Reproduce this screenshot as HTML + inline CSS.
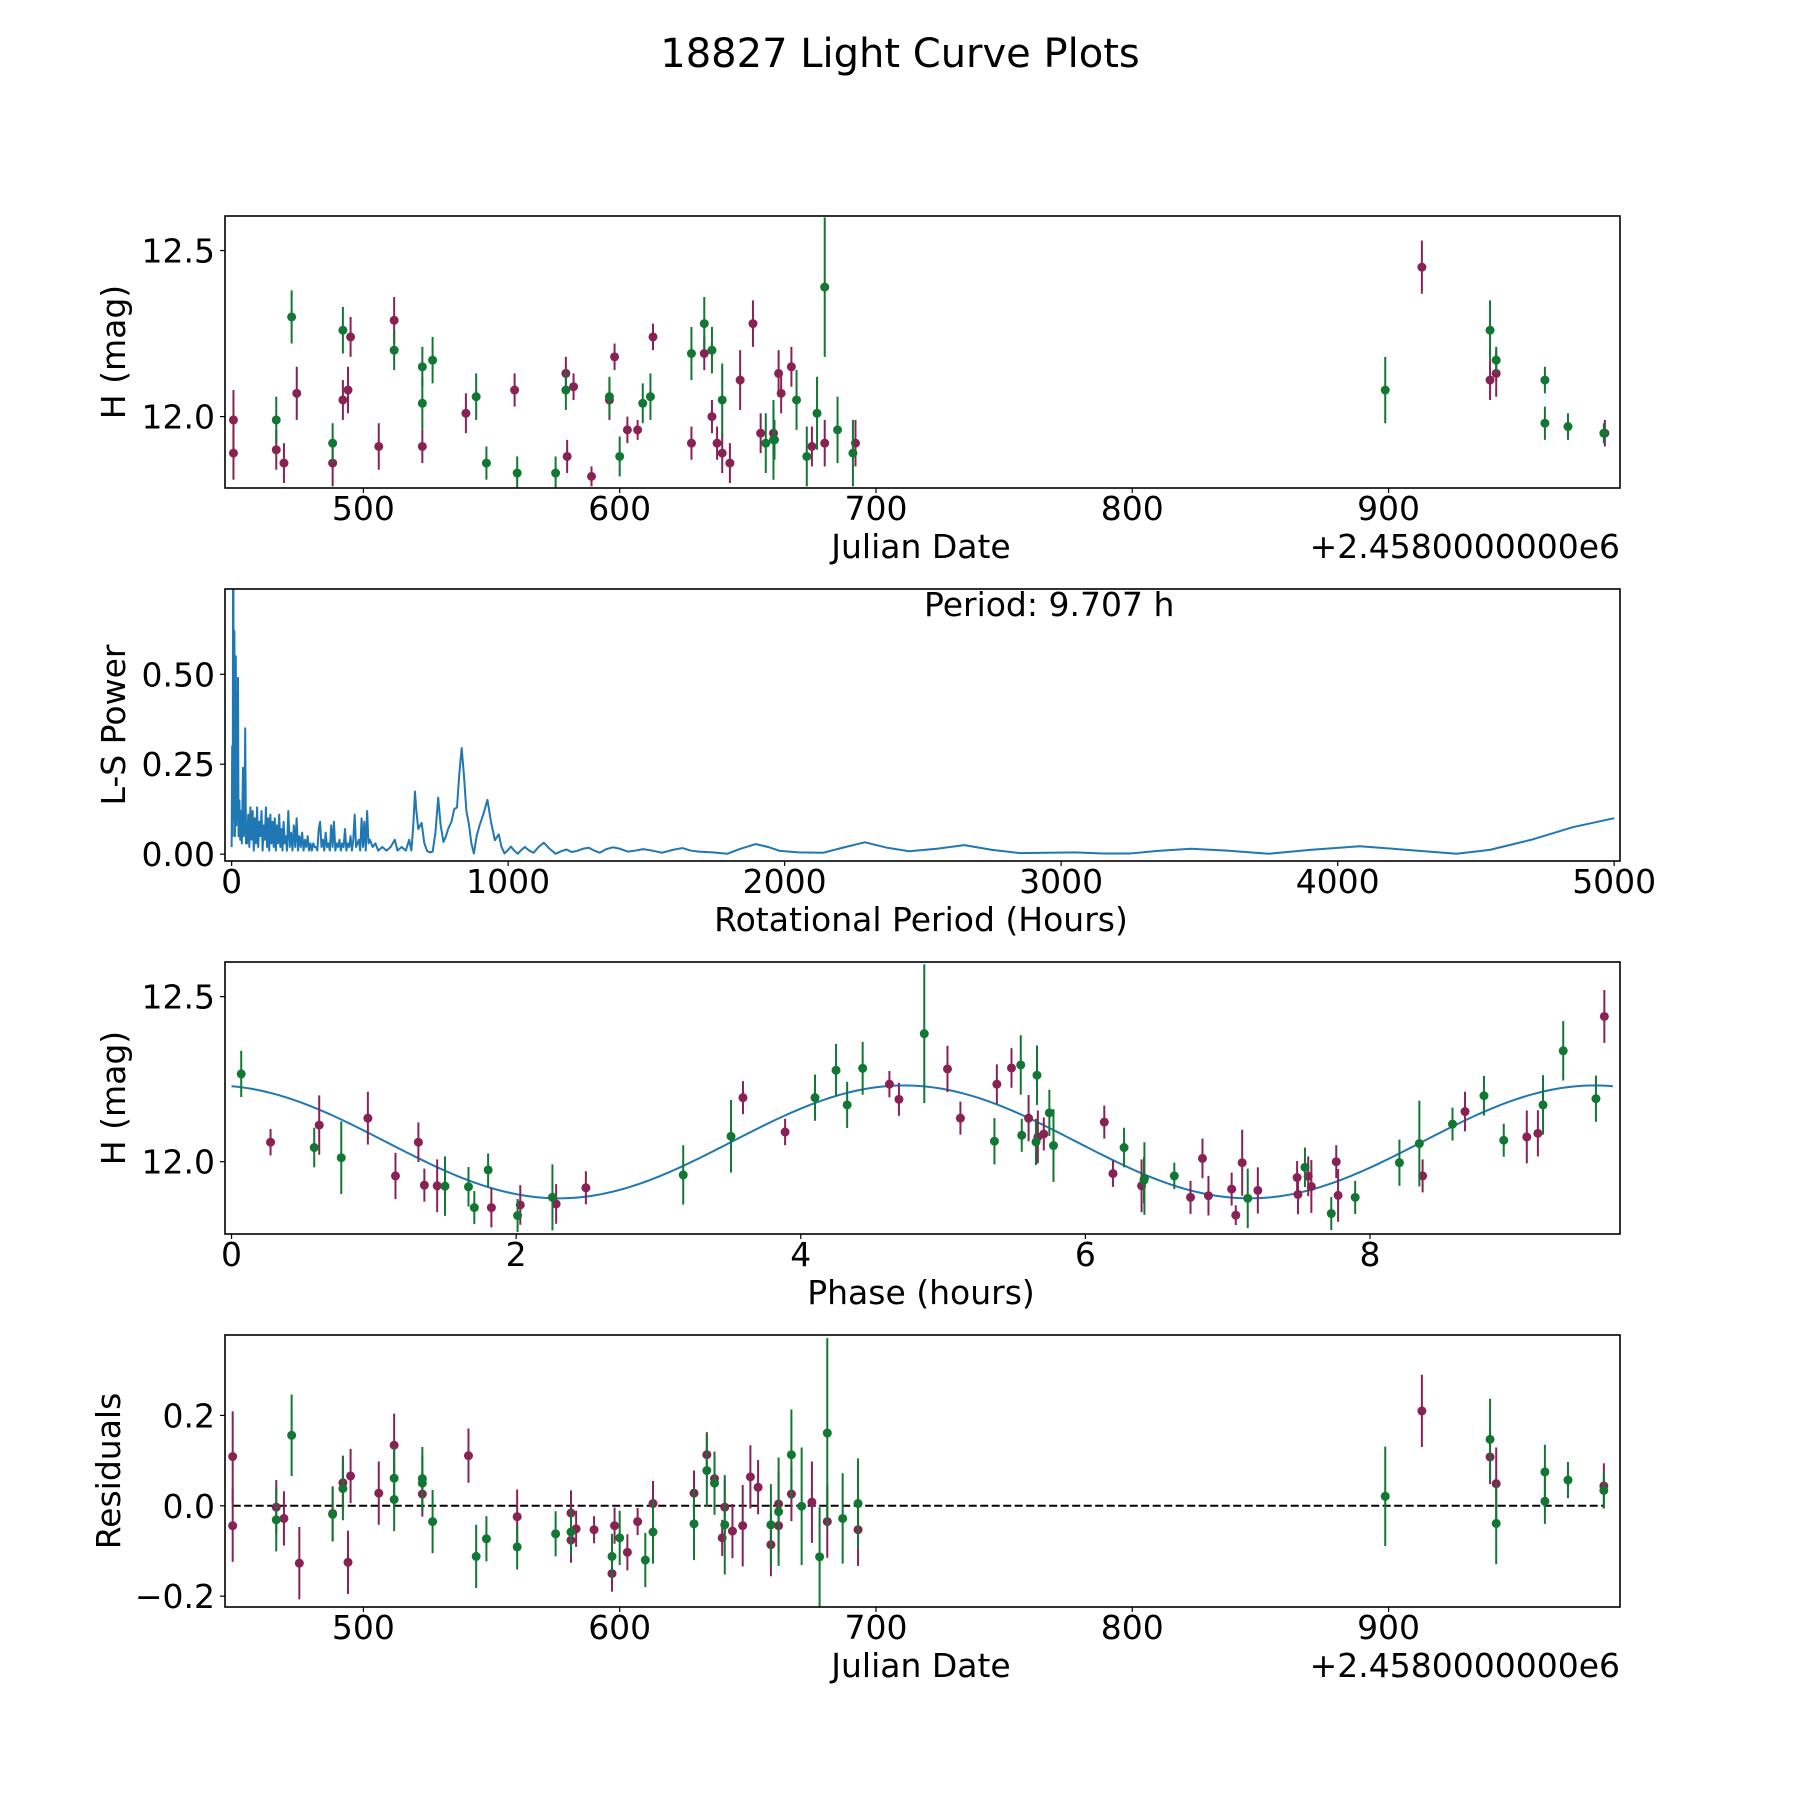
<!DOCTYPE html>
<html><head><meta charset="utf-8">
<style>
html,body{margin:0;padding:0;background:#fff;}
svg{display:block;font-family:"DejaVu Sans","Liberation Sans",sans-serif;}
</style></head>
<body>
<svg id="fig" width="1800" height="1800" viewBox="0 0 1800 1800" xmlns="http://www.w3.org/2000/svg">
<rect width="1800" height="1800" fill="#fff"/>
<text x="900" y="67" font-size="40" text-anchor="middle" fill="#000">18827 Light Curve Plots</text>
</svg>
<script>
// ---- Panel 1: light curve (Julian Date offset, mag, err)
const lcMagJd  = [449.3,449.3,466,469,474,488,492,494,495,506,512,523,540,559,579.5,579,582,589,596,598,603,607,613,628,633,636,638,640,643,647,652,655,660,662,663,667,675,680,692,913,939.6,942,984.4];
const lcMagMag = [11.99,11.89,11.90,11.86,12.07,11.86,12.05,12.08,12.24,11.91,12.29,11.91,12.01,12.08,11.88,12.13,12.09,11.82,12.05,12.18,11.96,11.96,12.24,11.92,12.19,12.00,11.92,11.89,11.86,12.11,12.28,11.95,11.95,12.13,12.07,12.15,11.91,11.92,11.92,12.45,12.11,12.13,11.95];
const lcMagErr = [0.09,0.08,0.06,0.06,0.08,0.07,0.06,0.07,0.06,0.07,0.07,0.05,0.06,0.05,0.05,0.05,0.04,0.03,0.06,0.04,0.04,0.03,0.04,0.05,0.05,0.05,0.05,0.06,0.06,0.09,0.07,0.06,0.07,0.07,0.06,0.06,0.06,0.07,0.07,0.08,0.06,0.07,0.04];
const lcGrnJd  = [466,472,488,492,512,523,523,527,544,548,560,575,579,596,600,609,612,628,633,636,640,657,660,660.4,669,673,677,680,685,691,898.7,939.6,942,961,961,970,984];
const lcGrnMag = [11.99,12.30,11.92,12.26,12.20,12.15,12.04,12.17,12.06,11.86,11.83,11.83,12.08,12.06,11.88,12.04,12.06,12.19,12.28,12.20,12.05,11.92,11.93,11.93,12.05,11.88,12.01,12.39,11.96,11.89,12.08,12.26,12.17,12.11,11.98,11.97,11.95];
const lcGrnErr = [0.07,0.08,0.06,0.07,0.06,0.06,0.08,0.07,0.07,0.05,0.05,0.05,0.06,0.06,0.06,0.06,0.07,0.08,0.08,0.07,0.11,0.09,0.12,0.06,0.09,0.09,0.11,0.21,0.10,0.10,0.10,0.09,0.04,0.04,0.05,0.04,0.03];
const jdTicks = [500,600,700,800,900];
const magTicks = [12.0,12.5];
const magTickLabels = ["12.0","12.5"];

// ---- Panel 2: Lomb-Scargle periodogram samples [hours, power]
const lsSamples = [
[0,0.02],[2,0.30],[4,0.05],[5,0.74],[6.5,0.74],[8,0.10],[10,0.62],[12,0.05],[15,0.55],[17,0.08],[19,0.45],[21,0.10],[23,0.49],[25,0.05],[28,0.15],[31,0.04],[34,0.12],[37,0.03],[41,0.24],[44,0.05],[47,0.12],[49,0.35],[52,0.03],
[56,0.03],[60,0.11],[64,0.02],[68,0.13],[72,0.04],[76,0.12],[80,0.01],[84,0.10],[88,0.03],[92,0.13],[96,0.02],[100,0.09],[104,0.05],[108,0.12],[112,0.01],[116,0.08],[120,0.04],[124,0.13],[128,0.02],[132,0.10],[136,0.01],[140,0.11],[144,0.03],[148,0.09],[152,0.02],[156,0.10],[160,0.01],[164,0.08],[168,0.03],[172,0.11],[176,0.02],[180,0.07],[184,0.01],[188,0.09],[192,0.03],[196,0.05],[200,0.01],
[205,0.12],[210,0.02],[215,0.06],[220,0.01],[225,0.08],[230,0.02],[235,0.10],[240,0.01],[245,0.05],[250,0.02],[255,0.06],[260,0.01],[265,0.04],[270,0.02],[275,0.05],[280,0.01],[285,0.03],[290,0.01],[295,0.03],[300,0.02],[305,0.02],[310,0.01],[315,0.07],[320,0.09],[325,0.02],[330,0.04],[335,0.01],[340,0.06],[345,0.02],[350,0.03],[355,0.01],[360,0.08],[365,0.02],[370,0.09],[375,0.01],[380,0.03],[385,0.02],[390,0.04],[395,0.01],[400,0.03],[405,0.02],[410,0.07],[415,0.01],[420,0.03],[425,0.02],[430,0.05],[435,0.01],[440,0.04],[445,0.11],[450,0.02],[455,0.03],[460,0.04],[465,0.01],[470,0.10],[475,0.02],[480,0.09],[485,0.01],[490,0.12],[495,0.03],[500,0.04],
[510,0.02],[520,0.03],[530,0.01],[545,0.02],[560,0.01],[575,0.02],[590,0.04],[600,0.01],[615,0.02],[630,0.01],[642,0.04],[650,0.01],[657,0.08],[663,0.174],[668,0.12],[675,0.07],[687,0.087],[697,0.03],[707,0.009],[717,0.005],[727,0.007],[737,0.06],[747,0.157],[756,0.08],[766,0.034],[775,0.05],[784,0.072],[795,0.09],[805,0.125],[815,0.13],[823,0.22],[832,0.295],[840,0.22],[849,0.12],[858,0.084],[867,0.03],[876,0.002],[886,0.05],[897,0.081],[910,0.11],[925,0.151],[938,0.09],[952,0.039],[966,0.055],[976,0.02],[987,0.002],[1000,0.012],[1010,0.021],[1022,0.01],[1035,0.001],[1048,0.012],[1061,0.020],[1076,0.01],[1092,0.004],[1110,0.02],[1129,0.032],[1150,0.015],[1172,0.001],[1191,0.008],[1211,0.013],[1230,0.006],[1249,0.009],[1270,0.015],[1292,0.018],[1311,0.01],[1331,0.004],[1355,0.014],[1379,0.019],[1405,0.015],[1433,0.007],[1460,0.01],[1488,0.014],[1520,0.01],[1557,0.004],[1595,0.012],[1630,0.017],[1660,0.01],[1689,0.007],[1740,0.005],[1792,0.001],[1840,0.015],[1895,0.028],[1940,0.02],[1983,0.009],
[2050,0.005],[2140,0.004],[2220,0.02],[2290,0.033],[2370,0.018],[2450,0.008],[2550,0.015],[2650,0.025],[2750,0.012],[2850,0.003],[2950,0.004],[3050,0.005],[3150,0.002],[3250,0.002],[3350,0.009],[3470,0.015],[3600,0.01],[3750,0.001],[3900,0.012],[4080,0.022],[4250,0.012],[4430,0.001],[4550,0.012],[4700,0.04],[4850,0.075],[5000,0.10]];
const hourTicks = [0,1000,2000,3000,4000,5000];
const powerTicks = [0,0.25,0.5];
const powerTickLabels = ["0.00","0.25","0.50"];
const periodLabel = "Period: 9.707 h";

// ---- Panel 3: phased light curve
const phMagPhase = [0.274,0.616,0.958,1.152,1.313,1.355,1.445,1.826,2.029,2.281,2.490,3.594,3.890,4.623,4.690,5.031,5.122,5.378,5.481,5.601,5.666,5.708,6.133,6.194,6.395,6.739,6.823,6.865,7.028,7.057,7.102,7.212,7.488,7.494,7.566,7.588,7.763,7.776,8.370,8.668,9.102,9.180,9.647];
const phMagMag = [12.059,12.111,12.132,11.957,12.059,11.929,11.927,11.861,11.869,11.872,11.921,12.194,12.090,12.235,12.189,12.281,12.132,12.235,12.284,12.132,12.075,12.084,12.120,11.964,11.927,11.892,12.010,11.897,11.917,11.838,11.997,11.913,11.952,11.901,11.956,11.925,12.000,11.898,11.957,12.152,12.075,12.086,12.440];
const phMagErr = [0.04,0.09,0.08,0.07,0.06,0.05,0.08,0.06,0.06,0.06,0.05,0.05,0.04,0.04,0.05,0.07,0.05,0.06,0.06,0.07,0.08,0.05,0.05,0.04,0.08,0.05,0.06,0.06,0.05,0.03,0.10,0.07,0.05,0.06,0.06,0.08,0.05,0.08,0.05,0.06,0.08,0.07,0.08];
const phGrnPhase = [0.068,0.581,0.771,1.500,1.665,1.706,1.803,2.010,2.255,3.174,3.510,4.100,4.248,4.326,4.435,4.868,5.361,5.546,5.553,5.653,5.660,5.747,5.776,6.272,6.412,6.415,6.625,7.141,7.543,7.728,7.896,8.207,8.347,8.580,8.801,8.940,9.216,9.358,9.588];
const phGrnMag = [12.266,12.043,12.012,11.926,11.924,11.861,11.975,11.837,11.892,11.960,12.077,12.194,12.277,12.172,12.283,12.388,12.062,12.293,12.080,12.060,12.262,12.148,12.049,12.043,11.944,11.949,11.957,11.889,11.983,11.843,11.892,11.997,12.055,12.114,12.200,12.065,12.172,12.336,12.191];
const phGrnErr = [0.07,0.06,0.11,0.09,0.06,0.05,0.05,0.05,0.10,0.09,0.11,0.07,0.08,0.07,0.08,0.21,0.07,0.09,0.05,0.07,0.09,0.07,0.11,0.06,0.07,0.11,0.04,0.09,0.06,0.05,0.05,0.07,0.13,0.05,0.06,0.05,0.09,0.09,0.07];
const modelPeriod = 9.707;
const modelMean = 12.06;
const modelAmp = 0.171;
const modelPeakPhase = 4.726;
const phaseTicks = [0,2,4,6,8];

// ---- Panel 4: residuals
const resMagJd  = [449,449,466,469,475,488,492,494,495,506,512,523,541,560,581,581,583,590,597,598,603,607,613,629,634,637,640,641,644,648,651,654,659,662,662,667,675,681,693,913,939.6,942,984];
const resMagVal = [0.109,-0.044,-0.003,-0.028,-0.127,-0.017,0.051,-0.125,0.066,0.028,0.134,0.026,0.111,-0.024,-0.016,-0.076,-0.051,-0.053,-0.150,-0.044,-0.103,-0.035,0.005,0.028,0.113,0.060,-0.071,-0.003,-0.056,-0.044,0.064,0.041,-0.086,0.004,-0.044,0.026,0.008,-0.035,-0.053,0.210,0.108,0.049,0.044];
const resMagErr = [0.10,0.08,0.06,0.06,0.08,0.06,0.06,0.07,0.06,0.07,0.07,0.05,0.06,0.06,0.05,0.05,0.04,0.03,0.04,0.04,0.04,0.03,0.05,0.05,0.05,0.05,0.04,0.06,0.06,0.09,0.07,0.06,0.07,0.07,0.06,0.06,0.09,0.08,0.08,0.08,0.06,0.08,0.05];
const resGrnJd  = [466,472,488,492,512,512,523,523,527,544,548,560,575,581,597,600,610,613,629,634,637,641,659,662,667,671,678,681,687,693,898.7,939.6,942,961,961,970,984];
const resGrnVal = [-0.031,0.156,-0.019,0.038,0.061,0.014,0.060,0.050,-0.035,-0.112,-0.073,-0.091,-0.062,-0.058,-0.112,-0.071,-0.120,-0.058,-0.040,0.078,0.050,-0.042,-0.042,-0.013,0.113,-0.001,-0.113,0.161,-0.028,0.005,0.021,0.147,-0.039,0.075,0.010,0.057,0.034];
const resGrnErr = [0.07,0.09,0.06,0.07,0.07,0.07,0.07,0.06,0.07,0.07,0.05,0.05,0.05,0.05,0.05,0.06,0.06,0.07,0.08,0.08,0.07,0.11,0.09,0.12,0.10,0.13,0.11,0.21,0.10,0.10,0.11,0.09,0.09,0.06,0.05,0.04,0.04];
const resTicks = [-0.2,0,0.2];
const resTickLabels = ["\u22120.2","0.0","0.2"];

const NS = "http://www.w3.org/2000/svg";
const svg = document.getElementById('fig');
const MAG = "#882255", GRN = "#117733", BLUE = "#1f77b4";
const L = 225, R = 1620, H = 272, FS = 33;

function mk(tag, attrs, parent) {
  const e = document.createElementNS(NS, tag);
  for (const k in attrs) e.setAttribute(k, attrs[k]);
  (parent || svg).appendChild(e);
  return e;
}
function scale(d0, d1, r0, r1) { return v => r0 + (v - d0) / (d1 - d0) * (r1 - r0); }

function makeAxes(name, top, xd, yd) {
  const g = mk('g', {});
  
  
  const x = scale(xd[0], xd[1], L, R), y = scale(yd[0], yd[1], top + H, top);
  return {g, x, y, top};
}
function frame(ax) {
  const f = mk('rect', {x: L, y: ax.top, width: R - L, height: H, fill: 'none', stroke: '#000', 'stroke-width': 1.6}, ax.g);
  
  
}
function xTicks(ax, vals, labels, name) {
  const g = mk('g', {}, ax.g);
  
  
  vals.forEach((v, i) => {
    const px = ax.x(v);
    mk('line', {x1: px, x2: px, y1: ax.top + H, y2: ax.top + H + 5, stroke: '#000', 'stroke-width': 1.2}, g);
    const t = mk('text', {x: px, y: ax.top + H + 32, 'font-size': FS, 'text-anchor': 'middle'}, g);
    t.textContent = labels[i];
  });
}
function yTicks(ax, vals, labels, name) {
  const g = mk('g', {}, ax.g);
  
  
  vals.forEach((v, i) => {
    const py = ax.y(v);
    mk('line', {x1: L - 5, x2: L, y1: py, y2: py, stroke: '#000', 'stroke-width': 1.2}, g);
    const t = mk('text', {x: L - 10, y: py + 12, 'font-size': FS, 'text-anchor': 'end'}, g);
    t.textContent = labels[i];
  });
}
function label(ax, text, x, y, rot, name, anchor) {
  const t = mk('text', {x, y, 'font-size': FS, 'text-anchor': anchor || 'middle'}, ax.g);
  if (rot) t.setAttribute('transform', `rotate(-90 ${x} ${y})`);
  t.textContent = text;
  
  
}
function clip(ax, id) {
  const c = mk('clipPath', {id}, ax.g);
  mk('rect', {x: L, y: ax.top, width: R - L, height: H}, c);
}
function errPoints(ax, xs, ys, es, color, name, clipId) {
  const g = mk('g', {'clip-path': `url(#${clipId})`}, ax.g);
  
  
  xs.forEach((xv, i) => {
    const px = ax.x(xv);
    const bar = mk('line', {x1: px, x2: px, y1: ax.y(ys[i] - es[i]), y2: ax.y(ys[i] + es[i]), stroke: color, 'stroke-width': 2}, g);
    
    
    const c = mk('circle', {cx: px, cy: ax.y(ys[i]), r: 4.5, fill: color}, g);
    
    
  });
}
const XL_OFF = 70;

// Panel 1
const a1 = makeAxes('light-curve-panel', 216, [446, 990.3], [11.785, 12.604]);
clip(a1, 'c1');
errPoints(a1, lcMagJd, lcMagMag, lcMagErr, MAG, 'series-filter-1', 'c1');
errPoints(a1, lcGrnJd, lcGrnMag, lcGrnErr, GRN, 'series-filter-2', 'c1');
frame(a1);
xTicks(a1, jdTicks, jdTicks.map(String), 'x-axis-ticks');
yTicks(a1, magTicks, magTickLabels, 'y-axis-ticks');
label(a1, 'Julian Date', 921, 488 + XL_OFF, false, 'x-axis-title');
label(a1, '+2.4580000000e6', 1620, 488 + XL_OFF, false, 'x-axis-offset', 'end');
label(a1, 'H (mag)', 125, 352, true, 'y-axis-title');

// Panel 2
const a2 = makeAxes('periodogram-panel', 589, [-24, 5021], [-0.019, 0.737]);
clip(a2, 'c2');
const lsPts = lsSamples.map(s => `${a2.x(s[0]).toFixed(2)},${a2.y(s[1]).toFixed(2)}`).join(' ');
const ls = mk('polyline', {points: lsPts, fill: 'none', stroke: BLUE, 'stroke-width': 2, 'stroke-linejoin': 'round', 'clip-path': 'url(#c2)'}, a2.g);


frame(a2);
xTicks(a2, hourTicks, hourTicks.map(String), 'x-axis-ticks');
yTicks(a2, powerTicks, powerTickLabels, 'y-axis-ticks');
label(a2, periodLabel, a2.x(3000) - 12, 616, false, 'period-annotation');
label(a2, 'Rotational Period (Hours)', 921, 861 + XL_OFF, false, 'x-axis-title');
label(a2, 'L-S Power', 125, 725, true, 'y-axis-title');

// Panel 3
const a3 = makeAxes('phased-curve-panel', 962, [-0.046, 9.757], [11.781, 12.605]);
clip(a3, 'c3');
const modelPhases = [];
for (let i = 0; i <= 300; i++) modelPhases.push(modelPeriod * i / 300);
const mPts = modelPhases.map(p => `${a3.x(p).toFixed(2)},${a3.y(modelMean + modelAmp * Math.cos(4 * Math.PI * (p - modelPeakPhase) / modelPeriod)).toFixed(2)}`).join(' ');
const model = mk('polyline', {points: mPts, fill: 'none', stroke: BLUE, 'stroke-width': 2, 'clip-path': 'url(#c3)'}, a3.g);


errPoints(a3, phMagPhase, phMagMag, phMagErr, MAG, 'series-filter-1', 'c3');
errPoints(a3, phGrnPhase, phGrnMag, phGrnErr, GRN, 'series-filter-2', 'c3');
frame(a3);
xTicks(a3, phaseTicks, phaseTicks.map(String), 'x-axis-ticks');
yTicks(a3, magTicks, magTickLabels, 'y-axis-ticks');
label(a3, 'Phase (hours)', 921, 1234 + XL_OFF, false, 'x-axis-title');
label(a3, 'H (mag)', 125, 1098, true, 'y-axis-title');

// Panel 4
const a4 = makeAxes('residuals-panel', 1335, [446, 990.3], [-0.224, 0.378]);
clip(a4, 'c4');
const zl = mk('line', {x1: a4.x(449), x2: a4.x(984), y1: a4.y(0), y2: a4.y(0), stroke: '#000', 'stroke-width': 2, 'stroke-dasharray': '8,3.5'}, a4.g);


errPoints(a4, resMagJd, resMagVal, resMagErr, MAG, 'series-filter-1', 'c4');
errPoints(a4, resGrnJd, resGrnVal, resGrnErr, GRN, 'series-filter-2', 'c4');
frame(a4);
xTicks(a4, jdTicks, jdTicks.map(String), 'x-axis-ticks');
yTicks(a4, resTicks, resTickLabels, 'y-axis-ticks');
label(a4, 'Julian Date', 921, 1607 + XL_OFF, false, 'x-axis-title');
label(a4, '+2.4580000000e6', 1620, 1607 + XL_OFF, false, 'x-axis-offset', 'end');
label(a4, 'Residuals', 120, 1471, true, 'y-axis-title');
</script>
</body></html>
